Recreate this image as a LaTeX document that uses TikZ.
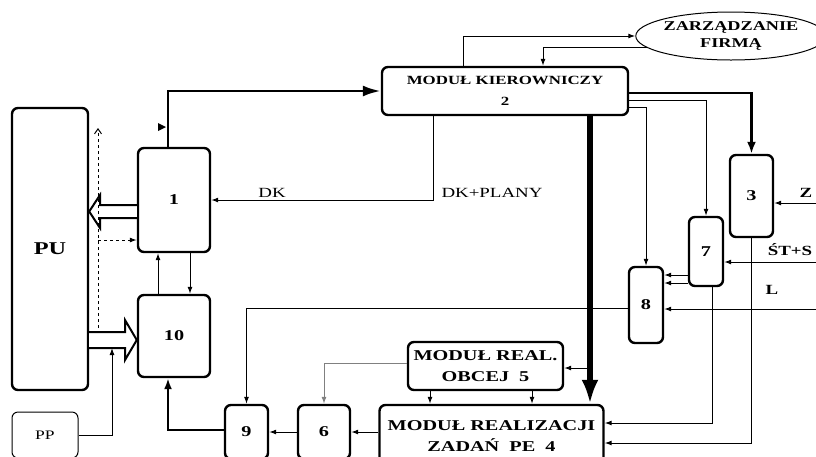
\documentclass[tikz,border=0pt]{standalone}
\usepackage{fontspec}
\setmainfont{Liberation Serif}
\newfontfamily\wide[FakeStretch=1.35]{Liberation Serif}
\usetikzlibrary{shapes, arrows.meta, positioning, calc}

\tikzset{
  blok/.style={draw, line width=2.4pt, rounded corners=6pt, inner sep=0pt, align=center,
    font=\wide\bfseries\fontsize{15}{21}\selectfont},
  lin/.style={line width=1pt},
  arr/.style={line width=1pt, -{Latex[length=7pt,width=5pt]}},
  gruba/.style={line width=2.8pt, -{Latex[length=12pt,width=9pt]}},
  pusta/.style={line width=2pt, fill=white, line join=miter},
  opis/.style={font=\wide\fontsize{14}{16}\selectfont},
  opisb/.style={font=\wide\bfseries\fontsize{14}{16}\selectfont},
}

\begin{document}
\begin{tikzpicture}[x=1pt,y=-1pt]
  \clip (0,0) rectangle (816,456);

  % Blocks
  \node[blok, minimum width=76pt, minimum height=282pt,
    font=\wide\bfseries\fontsize{18}{20}\selectfont] (pu) at (50,249) {PU};
  \node[blok, minimum width=72pt, minimum height=104pt] (b1) at (174,200) {1};
  \node[blok, minimum width=72pt, minimum height=82pt] (b10) at (174,336) {10};
  \node[draw, lin, rounded corners=6pt, minimum width=66pt, minimum height=46pt,
    font=\wide\fontsize{13}{15}\selectfont] (pp) at (45,435) {PP};
  \node[blok, minimum width=246pt, minimum height=48pt,
    font=\wide\bfseries\fontsize{12.5}{21}\selectfont] (b2) at (505,91) {MODUŁ KIEROWNICZY\\2};
  \node[draw, lin, ellipse, inner sep=0pt, minimum width=168pt, minimum height=48pt, align=center,
    font=\wide\bfseries\fontsize{13.5}{17}\selectfont] (zf) at (731,36) {ZARZĄDZANIE\\FIRMĄ};
  \node[blok, minimum width=43pt, minimum height=82pt] (b3) at (751.5,196) {3};
  \node[blok, minimum width=34pt, minimum height=69pt] (b7) at (706,251.5) {7};
  \node[blok, minimum width=34pt, minimum height=76pt] (b8) at (646,305) {8};
  \node[blok, minimum width=155pt, minimum height=48pt] (b5) at (485.5,366) {MODUŁ REAL.\\OBCEJ~~5};
  \node[blok, minimum width=224pt, minimum height=62pt] (b4) at (491.5,436) {MODUŁ REALIZACJI\\ZADAŃ~~PE~~4};
  \node[blok, minimum width=52pt, minimum height=54pt] (b6) at (324,432) {6};
  \node[blok, minimum width=43pt, minimum height=54pt] (b9) at (246.5,432) {9};

  % Wide hollow arrows
  \draw[pusta] (b1.west |- 0,205) -- (100,205) -- (100,195) -- (pu.east |- 0,211.5)
    -- (100,228) -- (100,218) -- (b1.west |- 0,218);
  \draw[pusta] (pu.east |- 0,332) -- (125,332) -- (125,320) -- (b10.west |- 0,340)
    -- (125,360) -- (125,348) -- (pu.east |- 0,348);

  % Dashed links at PU
  \coordinate (d1) at (98,328);
  \coordinate (d2) at (98,128);
  \draw[lin, dashed, -{Straight Barb[length=5pt,width=7pt]}] (d1) -- (d2);
  \draw[arr, dashed] (98,240) -- (b1.west |- 0,240);

  % Box 1 to box 2 (thick)
  \draw[gruba, -{Latex[length=18pt,width=11pt]}] ($(b1.north)+(-6,0)$) |- (b2.west);
  \fill (158,123) -- (166,127) -- (158,131) -- cycle;

  % DK back to box 1
  \draw[arr] ($(b2.south)+(-72,0)$) |- (b1.east);
  \node[opis] (dk) at (272,193) {DK};
  \node[opis] (dkp) at (492,193) {DK+PLANY};

  % Between 1 and 10
  \draw[arr] ($(b1.south)+(16,0)$) -- ($(b10.north)+(16,0)$);
  \draw[arr] ($(b10.north)+(-16,0)$) -- ($(b1.south)+(-16,0)$);

  % PP into the wide arrow
  \draw[arr] (pp.east) -| (112,348);

  % Box 9 to box 10 (thick)
  \draw[gruba, -{Latex[length=11pt,width=8pt]}] (b9.west |- 0,430) -| ($(b10.south)+(-6,0)$);

  % Bottom row
  \draw[arr] (b8.west |- 0,308) -| (b9.north);
  \draw[arr] (b6.west) -- (b9.east);
  \draw[arr] (b4.west |- b6) -- (b6.east);
  \draw[arr, gray] ($(b5.west)+(0,-3)$) -| (b6.north);
  \draw[arr] (b5.south -| 430,0) -- (b4.north -| 430,0);
  \draw[arr] (b5.south -| 532,0) -- (b4.north -| 532,0);

  % Thick link 2 to 4
  \draw[line width=6pt, -{Latex[length=24pt,width=17pt]}] (b2.south -| 590,0) -- (b4.north -| 590,0);
  \draw[arr] (590,368) -- (b5.east |- 0,368);

  % Box 2 and management
  \draw[arr] ($(b2.north)+(-42,0)$) |- (zf.west);
  \draw[arr] (zf.188) -| ($(b2.north)+(38,0)$);

  % Box 2 to 3, 7, 8
  \draw[gruba] (b2.east |- 0,93) -| (b3.north);
  \draw[arr] (b2.east |- 0,100) -| (b7.north);
  \draw[arr] (b2.east |- 0,107) -| (b8.north);

  % Inputs from the right
  \coordinate (zin) at (816,203);
  \coordinate (stin) at (816,262);
  \coordinate (in8) at (816,309);
  \draw[arr] (zin) -- (b3.east |- zin);
  \draw[arr] (stin) -- (b7.east |- stin);
  \draw[arr] (in8) -- (b8.east |- in8);
  \node[opisb] (z) at (806,193) {Z};
  \node[opisb] (sts) at (790,250) {ŚT+S};
  \node[opisb] (l) at (772,290) {L};

  % 7 to 8
  \draw[arr] (b7.west |- 0,275) -- (b8.east |- 0,275);
  \draw[arr] (b7.west |- 0,283) -- (b8.east |- 0,283);

  % Back to box 4
  \draw[arr] ($(b7.south)+(6,0)$) |- (b4.east |- 0,423);
  \draw[arr] (b3.south) |- (b4.east |- 0,443);
\end{tikzpicture}
\end{document}
